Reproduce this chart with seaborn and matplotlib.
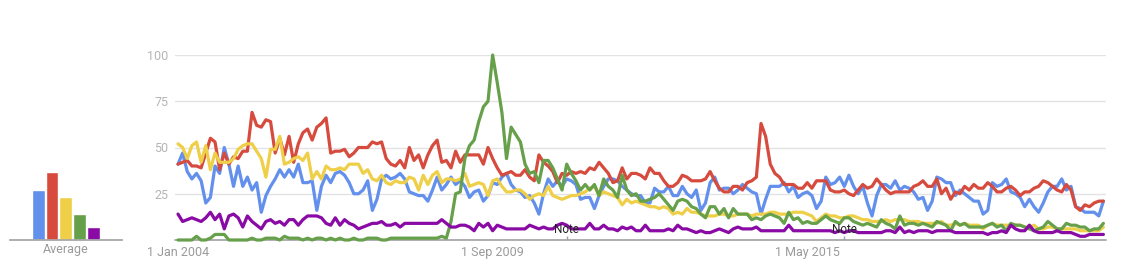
import numpy as np
import pandas as pd
import matplotlib
matplotlib.use("Agg")
import matplotlib.pyplot as plt
import seaborn as sns
from matplotlib.transforms import blended_transform_factory

# ---------------- data (monthly, Jan 2004 .. Sep 2020) ----------------
terms = ["Term 1", "Term 2", "Term 3", "Term 4", "Term 5"]
colors = ["#6290ec", "#d64b3e", "#eecf47", "#67a04a", "#8a0aa6"]

blue = [41, 47, 37, 33, 36, 32, 20, 23, 40, 36, 50, 41, 29, 40, 29, 34, 27, 31, 15, 24, 29, 33, 38, 34, 38, 34, 41, 31,
        31, 32, 16, 29, 35, 31, 36, 37, 35, 31, 25, 25, 27, 32, 16, 22, 33, 35, 33, 34, 36, 33, 26, 25, 24, 24, 21, 27, 34, 27,
        30, 34, 30, 32, 29, 23, 26, 27, 21, 24, 31, 30, 34, 36, 30, 27, 26, 23, 24, 20, 14, 25, 33, 29, 32, 29, 33, 32, 30,
        22, 23, 23, 17, 24, 29, 33, 33, 32, 29, 27, 25, 24, 24, 20, 20, 28, 26, 26, 29, 24, 24, 29, 25, 23, 27, 16, 20, 31, 34,
        27, 28, 28, 25, 27, 30, 28, 26, 25, 14, 22, 29, 29, 29, 31, 26, 29, 23, 25, 26, 24, 17, 21, 34, 30, 31, 34, 29, 35,
        29, 25, 29, 20, 13, 24, 30, 30, 28, 32, 27, 29, 28, 26, 22, 23, 16, 21, 34, 33, 31, 31, 24, 27, 25, 23, 21, 21, 14,
        16, 31, 29, 30, 33, 26, 25, 23, 18, 22, 18, 15, 20, 26, 29, 29, 33, 27, 29, 18, 17, 15, 15, 15, 13, 21]

red = [41, 42, 43, 40, 40, 39, 47, 55, 53, 38, 47, 41, 45, 44, 48, 48, 69, 62, 61, 65, 64, 47, 55, 46, 56, 42, 52, 58,
       60, 54, 61, 63, 66, 47, 48, 48, 49, 45, 47, 50, 50, 50, 53, 52, 53, 44, 41, 40, 43, 39, 50, 43, 46, 39, 46, 51, 54, 42,
       43, 39, 48, 42, 46, 46, 46, 46, 41, 50, 44, 39, 35, 36, 37, 35, 35, 38, 34, 32, 46, 42, 40, 37, 31, 36, 35, 37, 36,
       37, 36, 39, 38, 42, 39, 36, 31, 32, 39, 33, 36, 36, 35, 33, 39, 36, 36, 32, 29, 29, 31, 35, 34, 32, 32, 32, 33, 37, 32,
       28, 26, 26, 29, 29, 27, 31, 32, 34, 63, 56, 41, 36, 34, 30, 30, 30, 28, 28, 31, 28, 32, 32, 32, 27, 26, 26, 27, 25,
       24, 27, 30, 28, 29, 33, 30, 27, 25, 26, 26, 26, 26, 29, 30, 32, 29, 29, 33, 25, 28, 22, 26, 25, 29, 27, 30, 28, 28,
       31, 29, 26, 26, 28, 29, 27, 24, 26, 26, 28, 29, 32, 31, 29, 27, 26, 30, 27, 18, 16, 19, 18, 20, 21, 21]

yellow = [52, 50, 44, 51, 53, 42, 51, 38, 47, 42, 42, 42, 44, 49, 51, 52, 52, 48, 44, 34, 49, 49, 56, 41, 42, 44, 45, 43, 47,
          33, 37, 33, 40, 38, 38, 39, 38, 41, 41, 41, 36, 38, 33, 32, 35, 31, 30, 32, 31, 31, 34, 33, 27, 35, 30, 35, 37, 31, 33,
          33, 32, 33, 36, 29, 30, 31, 30, 24, 32, 33, 29, 26, 26, 27, 27, 25, 22, 24, 25, 24, 29, 24, 23, 22, 23, 24, 24,
          25, 26, 28, 29, 24, 26, 25, 24, 23, 19, 22, 20, 21, 20, 19, 18, 18, 17, 18, 17, 14, 15, 14, 17, 15, 15, 14, 13, 13, 13, 14,
          14, 13, 13, 14, 14, 14, 13, 14, 14, 14, 15, 15, 14, 14, 14, 15, 15, 15, 14, 13, 10, 12, 14, 13, 13, 12, 12, 13, 13,
          12, 11, 11, 10, 10, 10, 11, 10, 11, 11, 11, 10, 10, 10, 9, 9, 9, 9, 10, 8, 8, 9, 8, 9, 8, 8, 8, 6, 8, 9,
          8, 8, 8, 8, 8, 8, 7, 7, 8, 6, 6, 7, 7, 6, 6, 6, 6, 6, 5, 5, 5, 5, 5, 7]

green = [0, 0, 0, 0, 2, 0, 0, 1, 3, 3, 3, 0, 0, 0, 0, 0, 1, 0, 0, 1, 1, 1, 0, 2, 1, 1, 1, 0, 1,
         0, 1, 1, 0, 1, 0, 1, 0, 0, 1, 0, 0, 1, 1, 1, 0, 0, 1, 1, 1, 1, 1, 1, 1, 1, 1, 1, 1, 2,
         1, 10, 25, 26, 44, 51, 54, 64, 72, 75, 100, 85, 69, 44, 61, 57, 53, 41, 36, 37, 31, 43, 43, 39, 33, 27, 41, 36, 32, 27,
         30, 27, 30, 24, 33, 29, 27, 23, 35, 27, 24, 25, 21, 21, 22, 23, 25, 22, 19, 16, 21, 22, 21, 18, 17, 14, 12, 18, 18, 14,
         17, 12, 17, 14, 14, 14, 11, 12, 11, 13, 14, 13, 12, 9, 15, 11, 12, 9, 10, 9, 9, 11, 13, 11, 10, 9, 12, 12, 10,
         9, 8, 9, 8, 7, 11, 9, 8, 6, 13, 8, 9, 9, 8, 9, 8, 7, 10, 9, 8, 5, 10, 8, 9, 7, 7, 7, 7,
         8, 9, 7, 8, 5, 9, 8, 8, 7, 6, 5, 6, 7, 10, 8, 6, 6, 9, 8, 8, 7, 7, 5, 6, 6, 9]

purple = [14, 10, 11, 12, 11, 10, 12, 15, 11, 14, 6, 13, 14, 12, 7, 13, 10, 8, 6, 10, 11, 9, 10, 8, 11, 11, 8, 11, 13,
          13, 13, 12, 9, 8, 12, 8, 11, 9, 8, 6, 7, 8, 9, 9, 10, 8, 8, 9, 7, 9, 9, 9, 9, 9, 9, 9, 9, 11, 9,
          7, 7, 8, 8, 7, 5, 9, 7, 9, 5, 8, 7, 6, 6, 6, 6, 6, 8, 7, 6, 7, 6, 6, 8, 9, 8, 6, 6, 6,
          6, 9, 6, 6, 8, 6, 6, 5, 7, 6, 7, 5, 5, 8, 5, 5, 5, 5, 6, 5, 8, 6, 6, 5, 4, 5, 4, 4, 5, 6,
          5, 4, 6, 7, 6, 6, 6, 7, 5, 5, 5, 5, 5, 5, 8, 5, 5, 5, 5, 5, 5, 5, 5, 5, 4, 5, 4, 5, 5,
          4, 4, 4, 4, 4, 4, 5, 5, 4, 7, 4, 5, 4, 5, 5, 5, 4, 5, 5, 5, 5, 4, 4, 4, 4, 4, 4, 4,
          3, 4, 4, 5, 4, 8, 6, 5, 5, 8, 5, 4, 4, 4, 4, 5, 4, 4, 4, 3, 2, 2, 3, 3, 3, 3]

averages = [27, 37, 23, 14, 7]

x_tick_pos = [0, 68, 136]
x_tick_labels = ["1 Jan 2004", "1 Sep 2009", "1 May 2015"]
note_pos = [84, 144]
y_ticks = [0, 25, 50, 75, 100]
y_tick_labels = ["", "25", "50", "75", "100"]

# ---------------- build long table ----------------
series = [blue, red, yellow, green, purple]
frames = []
for name, vals in zip(terms, series):
    frames.append(pd.DataFrame({"month": np.arange(len(vals)), "value": vals, "term": name}))
df = pd.concat(frames, ignore_index=True)
avg_df = pd.DataFrame({"term": terms, "avg": averages})

sns.set_theme(style="white")
plt.rcParams['font.family'] = ['Roboto', 'DejaVu Sans']

W, H = 1125, 268
fig = plt.figure(figsize=(W / 100, H / 100), dpi=100)

# main chart
ax = fig.add_axes([175 / W, (H - 240) / H, (1105.5 - 175) / W, 185 / H])
ax.set_yticks(y_ticks)
ax.yaxis.grid(True, color="#e3e3e3", linewidth=1.0, zorder=0)
ax.axhline(0, color="#a8a8a8", linewidth=1.3, zorder=1)
sns.lineplot(data=df, x="month", y="value", hue="term", hue_order=terms,
             palette=colors, linewidth=2.3, legend=False, ax=ax, zorder=3)
for ln in ax.lines:
    ln.set_clip_on(False)
    ln.set_solid_joinstyle("round")
ax.set_xlim((175 - 178) / 4.627, (1105.5 - 178) / 4.627)
ax.set_ylim(0, 100)
ax.set_yticklabels(y_tick_labels)
ax.set_xticks(x_tick_pos)
ax.set_xticklabels(x_tick_labels)
ax.tick_params(axis="y", length=0, pad=5, labelsize=9, labelcolor="#b5b5b5")
ax.tick_params(axis="x", length=0, pad=4, labelsize=9, labelcolor="#9a9a9a")
ax.set_xlabel("")
ax.set_ylabel("")
for s in ax.spines.values():
    s.set_visible(False)
ax.vlines(note_pos, 0, 2.3, color="#a0a0a0", linewidth=1.0, zorder=2)
for p in note_pos:
    ax.text(p, 5.7, "Note", ha="center", va="center", fontsize=8.5, color="#222222", zorder=5)

# average bars
axb = fig.add_axes([10 / W, (H - 240) / H, 112 / W, 185 / H])
sns.barplot(data=avg_df, x="term", y="avg", hue="term", hue_order=terms, palette=colors,
            saturation=1, width=0.92, legend=False, ax=axb)
axb.set_xlim(-2.06, 6.09)
axb.set_ylim(0, 100)
axb.set_xticks([])
axb.set_yticks([])
axb.set_xlabel("")
axb.set_ylabel("")
for k, s in axb.spines.items():
    s.set_visible(k == "bottom")
axb.spines["bottom"].set_color("#a8a8a8")
axb.spines["bottom"].set_linewidth(1.3)
tr = blended_transform_factory(axb.transData, axb.transAxes)
axb.text(2, -0.052, "Average", transform=tr, ha="center", va="center", fontsize=9, color="#9a9a9a")

fig.savefig("out.png", dpi=100)
